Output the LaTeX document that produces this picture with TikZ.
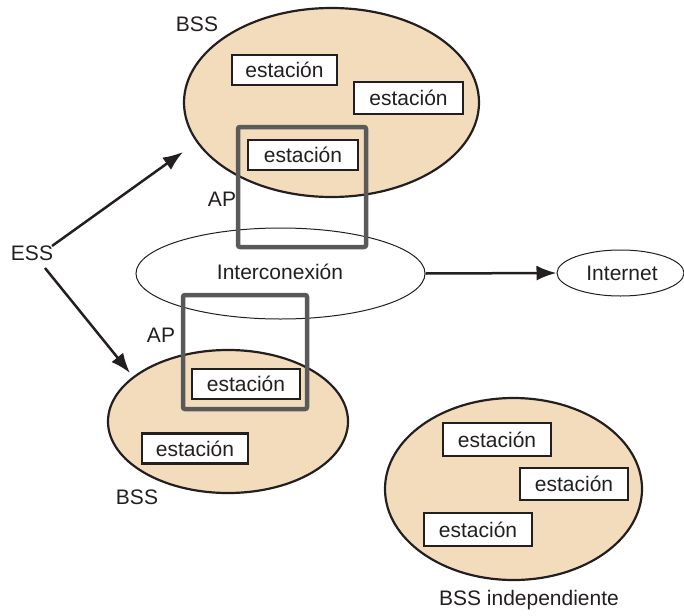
\documentclass[tikz,border=0pt]{standalone}
\usepackage{fontspec}
\setmainfont{Liberation Sans}
\usetikzlibrary{shapes.geometric,arrows.meta}
\definecolor{tan}{HTML}{F3DCBB}
\definecolor{ink}{HTML}{231F20}
\definecolor{apgray}{HTML}{5A5A5A}
\begin{document}
\begin{tikzpicture}[x=1pt,y=-1pt,
  every node/.style={font=\fontsize{21}{25}\selectfont, text=ink},
  bss/.style={ellipse, draw=ink, line width=2.2pt, fill=tan, inner sep=0pt},
  cloud/.style={ellipse, draw=ink, line width=1pt, fill=white, inner sep=0pt},
  sta/.style={draw=ink, line width=2.4pt, fill=white, minimum width=106pt, minimum height=30pt, inner sep=0pt},
  apbox/.style={draw=apgray, line width=4.5pt, rounded corners=2pt, inner sep=0pt},
  arr/.style={draw=ink, line width=2.5pt, -{Latex[length=20pt,width=15pt]}},
  lbl/.style={inner sep=0pt}
]
\useasboundingbox (0,0) rectangle (684,615);

% ellipses
\node[bss, minimum width=295pt, minimum height=189pt] (bss1) at (331.5,102.5) {};
\node[cloud, minimum width=289pt, minimum height=91pt] (ic) at (280.5,273.5) {};
\node[lbl] (ictext) at (280,272) {Interconexión};
\node[cloud, minimum width=127pt, minimum height=46pt] (inet) at (620.5,273) {};
\node[lbl] (inettext) at (622,273) {Internet};
\node[bss, minimum width=240pt, minimum height=143pt] (bss2) at (228,421.5) {};
\node[bss, minimum width=257pt, minimum height=182pt] (ibss) at (513.5,489) {};

% AP squares
\node[apbox, minimum width=128pt, minimum height=120pt] (ap1) at (302,187) {};
\node[apbox, minimum width=124pt, minimum height=114pt] (ap2) at (245,352) {};

% stations
\node[sta, minimum width=105pt] (s1) at (284.5,70) {estación};
\node[sta, minimum width=109pt, minimum height=32pt] (s2) at (408.5,98) {estación};
\node[sta, minimum width=110pt] (s3) at (303,155) {estación};
\node[sta, minimum width=108pt] (s4) at (246,384) {estación};
\node[sta] (s5) at (195,448.5) {estación};
\node[sta, minimum width=108pt, minimum height=33pt] (s6) at (497,439.5) {estación};
\node[sta, minimum width=108pt, minimum height=32pt] (s7) at (574,484) {estación};
\node[sta, minimum width=108pt, minimum height=33pt] (s8) at (478,529.5) {estación};

% labels
\node[lbl] (lbss1) at (197,24) {BSS};
\node[lbl] (lap1) at (222,199) {AP};
\node[lbl] (lap2) at (161,335) {AP};
\node[lbl] (lbss2) at (137,497) {BSS};
\node[lbl] (ess) at (32,253) {ESS};
\node[lbl] (libss) at (529,600) {BSS independiente};

% arrows
\coordinate (essA) at (52,246);
\coordinate (essB) at (45,268);
\coordinate (tipA) at (183,152);
\coordinate (tipB) at (130,373);
\draw[arr] (essA) -- (tipA);
\draw[arr] (essB) -- (tipB);
\draw[arr] (ic.east) -- (inet.west);
\end{tikzpicture}
\end{document}
